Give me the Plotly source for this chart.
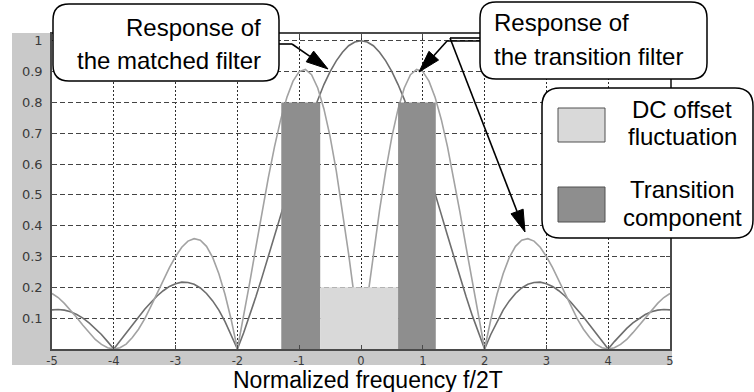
import math
import plotly.graph_objects as go

# ---------------- data ----------------
freq = [round(-5 + 0.1 * i, 1) for i in range(101)]

matched_response = [
    0.127, 0.128, 0.126, 0.121, 0.112, 0.100, 0.085, 0.067, 0.047, 0.024,
    0.000, 0.026, 0.052, 0.078, 0.104, 0.129, 0.151, 0.172, 0.189, 0.203,
    0.212, 0.217, 0.216, 0.210, 0.198, 0.180, 0.156, 0.126, 0.089, 0.047,
    0.000, 0.052, 0.109, 0.170, 0.234, 0.300, 0.368, 0.436, 0.505, 0.572,
    0.637, 0.699, 0.757, 0.810, 0.858, 0.900, 0.935, 0.963, 0.984, 0.996,
    1.000,
    0.996, 0.984, 0.963, 0.935, 0.900, 0.858, 0.810, 0.757, 0.699, 0.637,
    0.572, 0.505, 0.436, 0.368, 0.300, 0.234, 0.170, 0.109, 0.052, 0.000,
    0.047, 0.089, 0.126, 0.156, 0.180, 0.198, 0.210, 0.216, 0.217, 0.212,
    0.203, 0.189, 0.172, 0.151, 0.129, 0.104, 0.078, 0.052, 0.026, 0.000,
    0.024, 0.047, 0.067, 0.085, 0.100, 0.112, 0.121, 0.126, 0.128, 0.127,
]

transition_response = [
    0.180, 0.167, 0.148, 0.126, 0.102, 0.077, 0.053, 0.031, 0.015, 0.004,
    0.000, 0.004, 0.016, 0.037, 0.064, 0.098, 0.138, 0.180, 0.222, 0.264,
    0.300, 0.330, 0.350, 0.358, 0.353, 0.333, 0.297, 0.244, 0.177, 0.095,
    0.000, 0.105, 0.216, 0.331, 0.445, 0.555, 0.656, 0.744, 0.816, 0.869,
    0.900, 0.907, 0.890, 0.847, 0.779, 0.689, 0.578, 0.450, 0.308, 0.156,
    0.000,
    0.156, 0.308, 0.450, 0.578, 0.689, 0.779, 0.847, 0.890, 0.907, 0.900,
    0.869, 0.816, 0.744, 0.656, 0.555, 0.445, 0.331, 0.216, 0.105, 0.000,
    0.095, 0.177, 0.244, 0.297, 0.333, 0.353, 0.358, 0.350, 0.330, 0.300,
    0.264, 0.222, 0.180, 0.138, 0.098, 0.064, 0.037, 0.016, 0.004, 0.000,
    0.004, 0.015, 0.031, 0.053, 0.077, 0.102, 0.126, 0.148, 0.167, 0.180,
]

band_names = ["Transition component", "DC offset fluctuation", "Transition component"]
band_left = [-1.29, -0.66, 0.60]
band_right = [-0.66, 0.60, 1.21]
band_height = [0.8, 0.2, 0.8]

x_tick_vals = [-5, -4, -3, -2, -1, 0, 1, 2, 3, 4, 5]
x_tick_text = ["-5", "-4", "-3", "-2", "-1", "0", "1", "2", "3", "4", "5"]
y_tick_vals = [0.1, 0.2, 0.3, 0.4, 0.5, 0.6, 0.7, 0.8, 0.9, 1.0]
y_tick_text = ["0.1", "0.2", "0.3", "0.4", "0.5", "0.6", "0.7", "0.8", "0.9", "1"]

x_title = "Normalized frequency f/2T"
callout_matched = ["Response of", "the matched filter"]
callout_transition = ["Response of", "the transition filter"]
legend_dc = ["DC offset", "fluctuation"]
legend_tr = ["Transition", "component"]

# ---------------- style ----------------
W, H = 754, 392
PL, PR, PT, PB = 52, 670, 34, 349  # plot area in pixels
band_colors = {"Transition component": "#8e8e8e", "DC offset fluctuation": "#d9d9d9"}
TEXT_FONT = "Liberation Sans, Arial, sans-serif"
FS = 24


def P(px, py):
    return ((px - PL) / (PR - PL), (PB - py) / (PB - PT))


def rounded_path(x0, y0, x1, y1, r):
    def f(px, py):
        a, b = P(px, py)
        return f"{a:.5f},{b:.5f}"
    return (f"M{f(x0 + r, y0)} L{f(x1 - r, y0)} Q{f(x1, y0)} {f(x1, y0 + r)} "
            f"L{f(x1, y1 - r)} Q{f(x1, y1)} {f(x1 - r, y1)} L{f(x0 + r, y1)} "
            f"Q{f(x0, y1)} {f(x0, y1 - r)} L{f(x0, y0 + r)} Q{f(x0, y0)} {f(x0 + r, y0)} Z")


fig = go.Figure()

fig.add_trace(go.Scatter(x=freq, y=matched_response, mode="lines",
                         line=dict(color="#6e6e6e", width=1.6), name="Matched filter"))
fig.add_trace(go.Scatter(x=freq, y=transition_response, mode="lines",
                         line=dict(color="#a2a2a2", width=1.6), name="Transition filter"))

for name, l, r, h in zip(band_names, band_left, band_right, band_height):
    fig.add_trace(go.Scatter(x=[l, r, r, l, l], y=[0, 0, h, h, 0], mode="lines",
                             fill="toself", fillcolor=band_colors[name],
                             line=dict(width=0, color=band_colors[name]), name=name))

shapes = []
# grey frame background around the axes
gx0, gy0 = P(12, 365)
gx1, gy1 = P(672, 33)
shapes.append(dict(type="rect", xref="paper", yref="paper", x0=gx0, y0=gy0, x1=gx1, y1=gy1,
                   fillcolor="#c9c9c9", line=dict(width=0), layer="below"))
shapes.append(dict(type="rect", xref="paper", yref="paper", x0=0, y0=0, x1=1, y1=1,
                   fillcolor="white", line=dict(width=0), layer="below"))

# rounded callout boxes
for (x0, y0, x1, y1, rr) in [(53, 4, 279, 81, 16), (480, 2, 707, 79, 16), (542, 88, 753, 238, 18)]:
    shapes.append(dict(type="path", xref="paper", yref="paper", path=rounded_path(x0, y0, x1, y1, rr),
                       fillcolor="white", line=dict(color="black", width=1.5), layer="above"))

# legend swatches
for (x0, y0, x1, y1, col) in [(558, 108, 605, 142, band_colors["DC offset fluctuation"]),
                              (558, 187, 605, 222, band_colors["Transition component"])]:
    a0, b0 = P(x0, y1)
    a1, b1 = P(x1, y0)
    shapes.append(dict(type="rect", xref="paper", yref="paper", x0=a0, y0=b0, x1=a1, y1=b1,
                       fillcolor=col, line=dict(color="#505050", width=1), layer="above"))


def seg(p, q, w=1.6):
    a0, b0 = P(*p)
    a1, b1 = P(*q)
    shapes.append(dict(type="line", xref="paper", yref="paper", x0=a0, y0=b0, x1=a1, y1=b1,
                       line=dict(color="black", width=w), layer="above"))


def arrow(tail, tip, L=22, Wd=13):
    dx, dy = tip[0] - tail[0], tip[1] - tail[1]
    n = math.hypot(dx, dy)
    ux, uy = dx / n, dy / n
    bx, by = tip[0] - L * ux, tip[1] - L * uy
    seg(tail, (bx, by))
    nx, ny = -uy, ux
    v1 = P(*tip)
    v2 = P(bx + nx * Wd / 2, by + ny * Wd / 2)
    v3 = P(bx - nx * Wd / 2, by - ny * Wd / 2)
    path = f"M{v1[0]:.5f},{v1[1]:.5f} L{v2[0]:.5f},{v2[1]:.5f} L{v3[0]:.5f},{v3[1]:.5f} Z"
    shapes.append(dict(type="path", xref="paper", yref="paper", path=path,
                       fillcolor="black", line=dict(color="black", width=1), layer="above"))


# matched filter pointer
seg((279, 44), (292, 44))
arrow((292, 44), (328, 69))
# transition filter pointers
seg((480, 41), (447, 41))
arrow((447, 41), (419, 72))
seg((480, 38), (450, 38))
arrow((450, 38), (525, 232))

annotations = []


def text(s, px, py, anchor="center", size=FS, pad=1):
    a, b = P(px, py)
    annotations.append(dict(text=s, x=a, y=b, xref="paper", yref="paper", showarrow=False,
                            xanchor=anchor, yanchor="middle", borderpad=pad,
                            font=dict(family=TEXT_FONT, size=size, color="black")))


off = 0.3465 * FS
text(callout_matched[0], 263, 36 - off, "right")
text(callout_matched[1], 263, 69 - off, "right")
text(callout_transition[0], 492, 31 - off, "left")
text(callout_transition[1], 492, 65 - off, "left")
text(legend_dc[0], 682, 118 - off)
text(legend_dc[1], 682, 145 - off)
text(legend_tr[0], 682, 198 - off)
text(legend_tr[1], 682, 226 - off)
text(x_title, 368, 387.5 - 0.3465 * 23, size=23, pad=0)

axis_common = dict(showline=True, linecolor="#4a4a4a", linewidth=1.5, mirror="ticks",
                   ticks="inside", ticklen=4, tickcolor="#4a4a4a", zeroline=False,
                   showgrid=True, gridwidth=1, fixedrange=True)

fig.update_layout(
    width=W, height=H,
    margin=dict(l=PL, r=W - PR, t=PT, b=H - PB),
    paper_bgcolor="white", plot_bgcolor="white",
    showlegend=False,
    xaxis=dict(range=[-5, 5], tickvals=x_tick_vals, ticktext=x_tick_text,
               tickfont=dict(family="DejaVu Sans, sans-serif", size=11.5, color="#3a3a3a"),
               gridcolor="#2e2e2e", griddash="2px,2px", ticklabelstandoff=0, **axis_common),
    yaxis=dict(range=[0, 1.022], tickvals=y_tick_vals, ticktext=y_tick_text,
               tickfont=dict(family="DejaVu Sans, sans-serif", size=13, color="#3a3a3a"),
               gridcolor="#444444", griddash="5px,3px", ticklabelstandoff=5, **axis_common),
    shapes=shapes,
    annotations=annotations,
)

fig.write_html("out.html", config={"displayModeBar": False},
               post_script="document.body.style.margin='0';document.body.style.overflow='hidden';")
